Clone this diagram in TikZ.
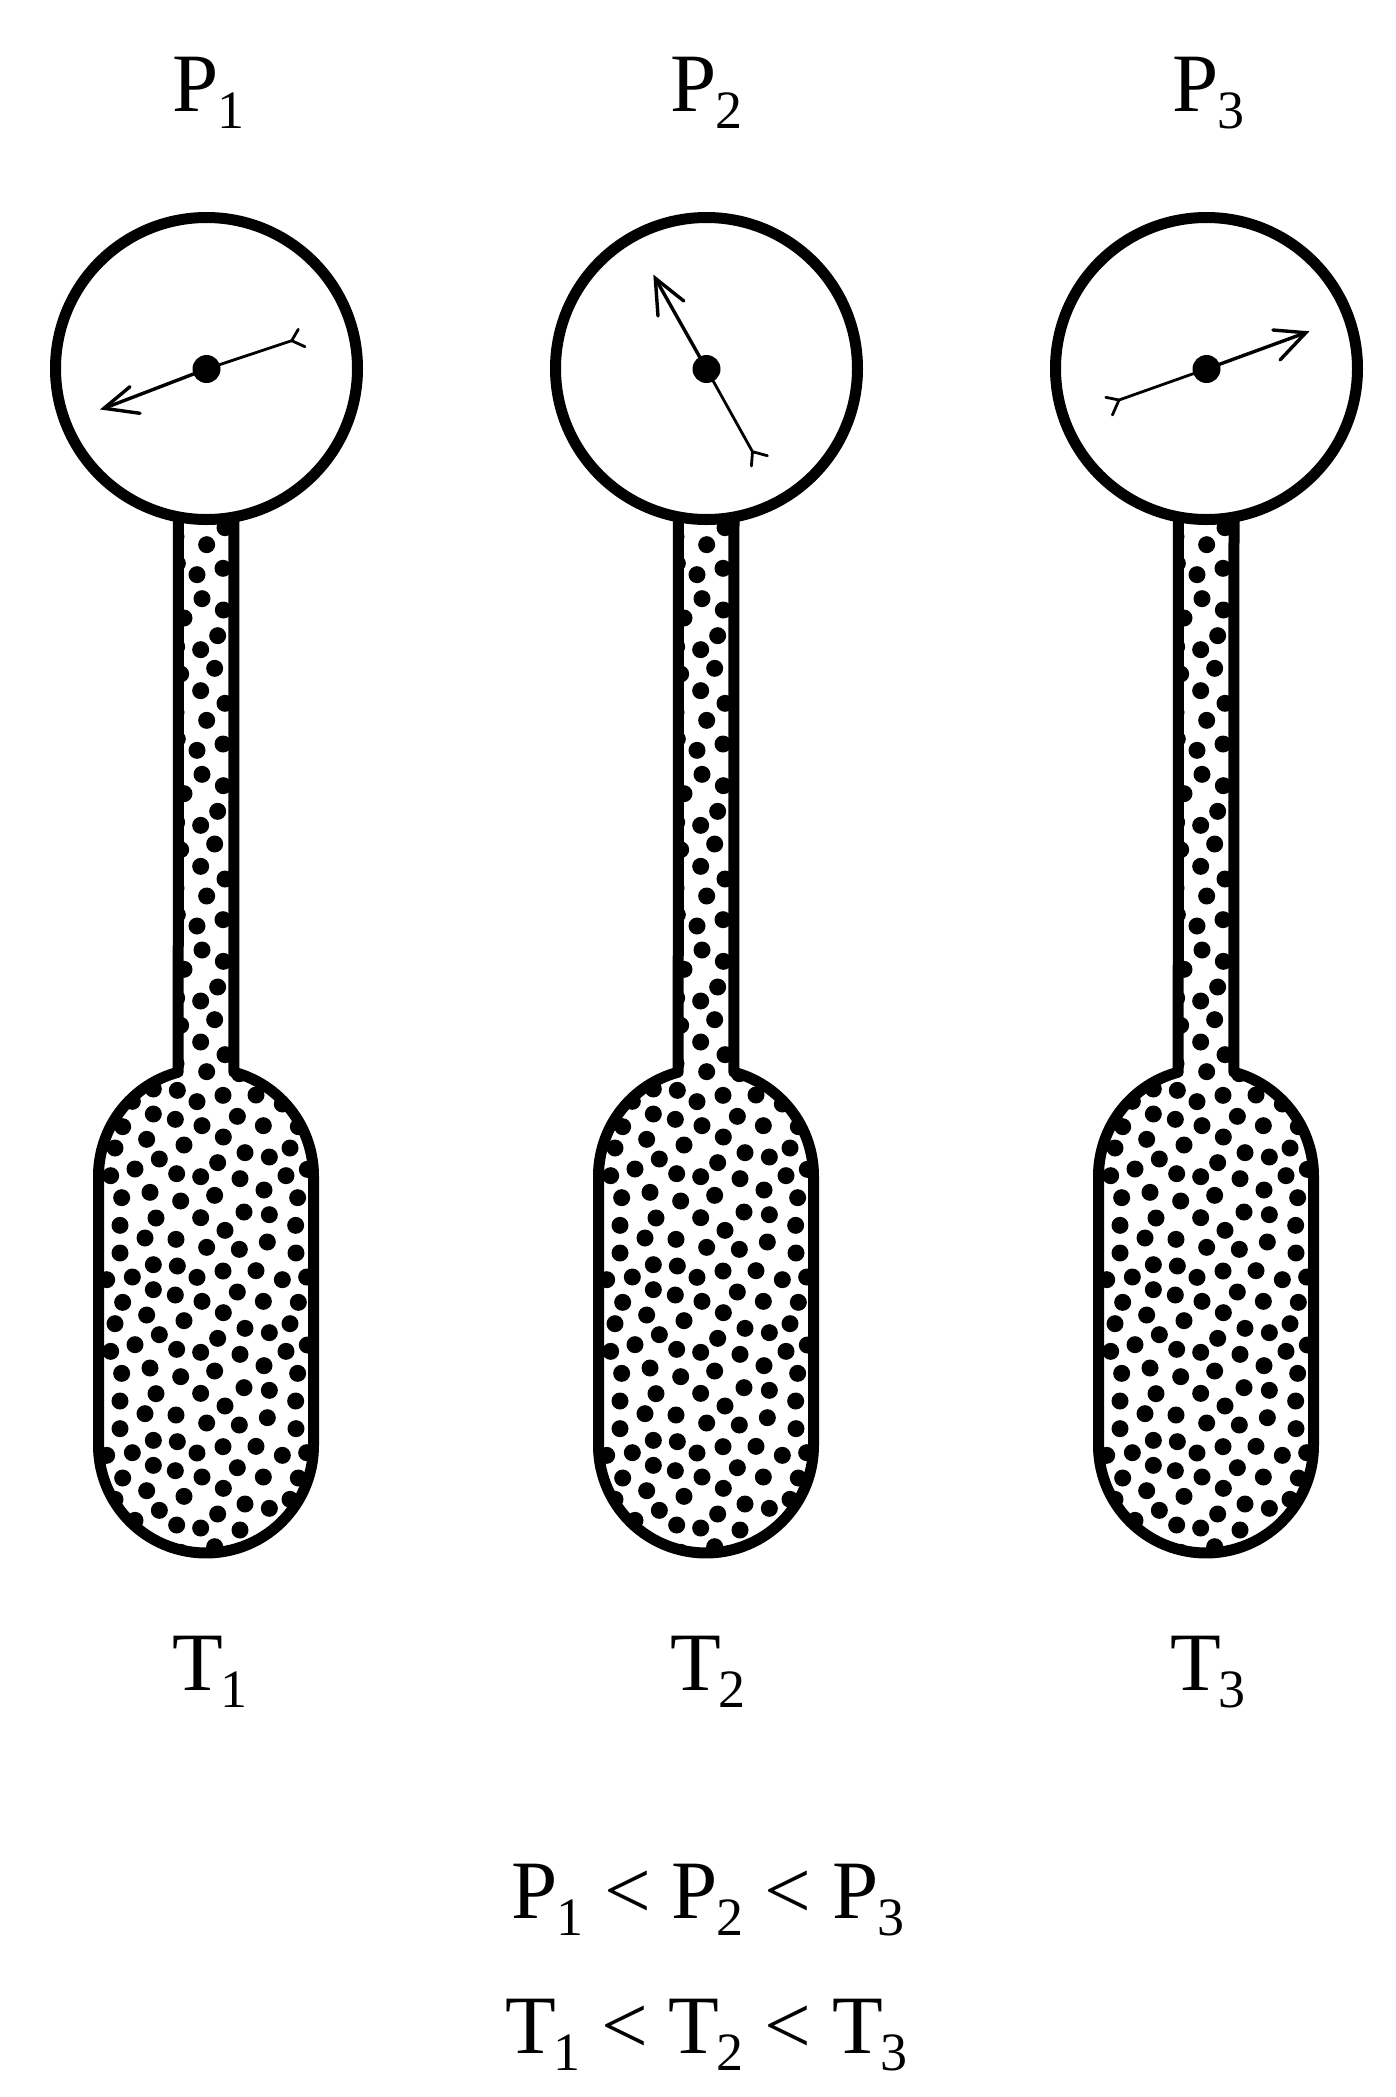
\documentclass[tikz,border=0pt]{standalone}
\usepackage{fontspec}
\setmainfont{Liberation Serif}
\newcommand{\bigtxt}{\fontsize{83}{83}\selectfont}
\newcommand{\lblP}[1]{P\kern -1pt\raisebox{-17pt}{\fontsize{54}{54}\selectfont #1}}
\newcommand{\lblT}[1]{T\kern -2.5pt\raisebox{-17pt}{\fontsize{54}{54}\selectfont #1}}
\newcommand{\vesselpath}{(178.5,500) -- plot[domain=255:180,samples=30] ({206+107.5*cos(\x)},{1176+107.5*sin(\x)}) -- plot[domain=180:0,samples=60] ({206+107.5*cos(\x)},{1445.5+107.5*sin(\x)}) -- plot[domain=0:-75,samples=30] ({206+107.5*cos(\x)},{1176+107.5*sin(\x)}) -- (234,500)}
\tikzset{
  wall/.style={line width=11pt,draw=black,line join=round},
  needle/.style={line width=3.4pt,draw=black,line cap=round,line join=miter},
  tail/.style={line width=2.8pt,draw=black,line cap=round,line join=miter},
  tag/.style={inner sep=0pt,anchor=base west,font=\bigtxt}
}
\begin{document}
\begin{tikzpicture}[x=1pt,y=-1pt]
\useasboundingbox (0,0) rectangle (1396,2097);
\foreach \off in {0,500,1000}{
\begin{scope}[xshift=\off pt]
  \begin{scope}
    \clip \vesselpath -- cycle;
    \foreach \k in {-4,-3,-2,-1,0,1,2}{
      \foreach \a/\b in {250/252,316/268,396/287,502/259,580/287,158/290,685/290,230/328,342/345,460/321,135/354,525/368,598/381,660/354,268/387,443/398,195/417,122/437,320/431,392/440,510/446,648/437,712/418,155/503,240/487,332/513,434/496,582/480,683/503,150/586,258/564,392/563,522/546,598/554,677/586,225/624,318/628,465/601,410/652,508/658,592/636,150/669,678/669,250/704,322/708,381/742,459/723,558/722,187/741,110/749,637/749,710/741}{
        \fill ({70+\a/3},{1030+(\b+527*\k)/3}) circle[radius=8.5pt];
      }
    }
  \end{scope}
  \draw[wall] \vesselpath;
  \node[circle,minimum size=302pt,inner sep=0pt,fill=white,wall] (gauge\off) at (206.5,368.5) {};
  \node[circle,minimum size=28pt,inner sep=0pt,fill=black] (hub\off) at (206.5,369) {};
\end{scope}
}
% needle 1
\draw[needle] (hub0.center) -- (104,408.3);
\draw[needle] (130,386.7) -- (104,408.3) -- (140,413.3);
\draw[tail] (hub0.center) -- (291.7,340.7) -- (298.3,329.3);
\draw[tail] (291.7,340.7) -- (305,346.7);
% needle 2
\draw[needle] (hub500.center) -- (655.3,278.3);
\draw[needle] (683.8,301) -- (655.3,278.3) -- (658,316);
\draw[tail] (hub500.center) -- (752.5,451.7) -- (767.4,455.7);
\draw[tail] (752.5,451.7) -- (751.4,466);
% needle 3
\draw[needle] (hub1000.center) -- (1305.8,332.7);
\draw[needle] (1272.9,330) -- (1305.8,332.7) -- (1280,360);
\draw[tail] (hub1000.center) -- (1119,400) -- (1105.8,397.3);
\draw[tail] (1119,400) -- (1112.4,415);
% labels
\node[tag] (p1) at (172,111) {\lblP{1}};
\node[tag] (p2) at (670,111) {\lblP{2}};
\node[tag] (p3) at (1172,111) {\lblP{3}};
\node[tag] (t1) at (172,1690) {\lblT{1}};
\node[tag] (t2) at (670,1690) {\lblT{2}};
\node[tag] (t3) at (1170,1690) {\lblT{3}};
\node[tag] (pline) at (511,1918) {\lblP{1} < \lblP{2} < \lblP{3}};
\node[tag] (tline) at (505,2053) {\lblT{1} < \lblT{2} < \lblT{3}};
\end{tikzpicture}
\end{document}
